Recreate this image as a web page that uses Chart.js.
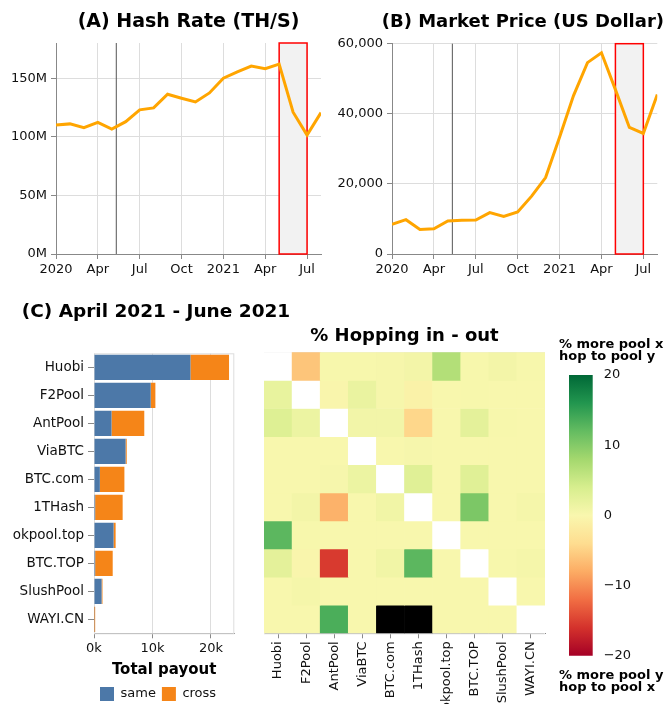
<!DOCTYPE html>
<html>
<head>
<meta charset="utf-8">
<script src="https://cdn.jsdelivr.net/npm/chart.js@4.4.1/dist/chart.umd.min.js"></script>
<style>
html, body { margin: 0; padding: 0; background: #fff; width: 668px; height: 704px; overflow: hidden; }
canvas { position: absolute; }
</style>
</head>
<body>
<canvas id="hashchart" width="334" height="290" style="left:0;top:0"></canvas>
<canvas id="pricechart" width="334" height="290" style="left:334px;top:0"></canvas>
<canvas id="payoutchart" width="312" height="421" style="left:0;top:290px"></canvas>
<canvas id="hopchart" width="300" height="384" style="left:250px;top:320px"></canvas>
<canvas id="scalechart" width="118" height="374" style="left:550px;top:330px"></canvas>
<script>
// monthly series, Jan 2020 - Aug 2021
var months = ['2020-01','2020-02','2020-03','2020-04','2020-05','2020-06','2020-07','2020-08','2020-09','2020-10',
              '2020-11','2020-12','2021-01','2021-02','2021-03','2021-04','2021-05','2021-06','2021-07','2021-08'];
var hashRate = [110e6, 111e6, 107.7e6, 112.3e6, 106.6e6, 112.9e6, 123e6, 124.6e6, 136.3e6, 132.9e6,
                129.7e6, 137.4e6, 150e6, 155.4e6, 160.3e6, 158e6, 162e6, 121e6, 101.4e6, 120.6e6];
var marketPrice = [8500, 9800, 7000, 7200, 9400, 9600, 9700, 11800, 10700, 12000,
                   16500, 21800, 33300, 45200, 54600, 57400, 46900, 36100, 34400, 45500];
var monthNames = ['Jan','Feb','Mar','Apr','May','Jun','Jul','Aug','Sep','Oct','Nov','Dec'];
var hashTicks = [0, 50e6, 100e6, 150e6];
var priceTicks = [0, 20000, 40000, 60000];
var halvingDate = '2020-05-11';
var windowStart = '2021-05';
var windowEnd = '2021-07';

var pools = ['Huobi','F2Pool','AntPool','ViaBTC','BTC.com','1THash','okpool.top','BTC.TOP','SlushPool','WAYI.CN'];
var payoutSame = [16500, 9700, 3000, 5400, 1000, 200, 3350, 200, 1300, 50];
var payoutCross = [6600, 800, 5600, 200, 4200, 4700, 350, 3000, 150, 150];
var payoutTicks = [0, 10000, 20000];

// rows = pool x, columns = pool y ; null = same pool, NaN = no value
var hopping = [
  [null, -6, 0.2, 0.2, 0.4, 0.7, 6.8, 0.2, 0.7, 0.2],
  [2, null, -0.3, 1.8, 0.4, -0.8, 0.1, 0.2, 0.1, 0.1],
  [3.2, 1.5, null, 0.8, 0.8, -4.5, 0.1, 2.5, 0.2, 0.1],
  [0.1, 0.1, 0.1, null, 0.1, 0.3, 0.1, 0.1, 0.1, 0.1],
  [0.1, 0.1, 0.3, 1.5, null, 3, 0.1, 3, 0.1, 0.1],
  [0.1, 0.7, -7.5, 0.1, 1, null, 0.1, 10.5, 0.1, 0.5],
  [12.5, 0.2, 0.1, 0.1, 0.1, 0.1, null, 0.1, 0.1, 0.1],
  [2.5, -0.3, -15.5, 0.1, 1, 12.5, 0.1, null, 0.2, 0.5],
  [0.1, 0.5, 0.1, 0.1, 0.1, 0.1, 0.1, 0.1, null, 0.1],
  [0.1, 0.1, 13.5, 0.1, NaN, NaN, 0.1, 0.1, 0.1, null]
];
var colorDomain = [-20, 20];
var colorTicks = [-20, -10, 0, 10, 20];
var colorStops = ['#a50026','#d4322c','#f16e43','#fcac64','#fedd90','#f9f7ae','#d7ee8e','#a4d86e','#64bc61','#22964f','#006837'];

Chart.defaults.font.family = 'DejaVu Sans';
Chart.defaults.font.size = 13;
Chart.defaults.color = '#111';

function monthIndex(s) {
  var p = s.split('-');
  var y = +p[0], m = +p[1];
  var idx = (y - 2020) * 12 + (m - 1);
  if (p[2]) idx += (+p[2] - 1) / new Date(y, m, 0).getDate();
  return idx;
}

function setTicks(list) {
  return function(s) { s.ticks = list.map(function(v) { return {value: v}; }); };
}

function hexToRgb(h) {
  return [parseInt(h.substr(1, 2), 16), parseInt(h.substr(3, 2), 16), parseInt(h.substr(5, 2), 16)];
}

function cellColor(v) {
  if (v === null) return '#ffffff';
  if (isNaN(v)) return '#000000';
  var t = (v - colorDomain[0]) / (colorDomain[1] - colorDomain[0]);
  t = Math.max(0, Math.min(1, t)) * (colorStops.length - 1);
  var i = Math.min(Math.floor(t), colorStops.length - 2);
  var f = t - i;
  var a = hexToRgb(colorStops[i]), b = hexToRgb(colorStops[i + 1]);
  return 'rgb(' + [0, 1, 2].map(function(k) { return Math.round(a[k] + (b[k] - a[k]) * f); }).join(',') + ')';
}

// empty axis used only to reserve space
function spacer(pos, w) {
  return {
    type: 'linear', position: pos,
    ticks: {display: false}, grid: {display: false}, border: {display: false},
    afterFit: function(s) { s.width = w; }
  };
}

// halving line + highlighted window
var eventMarks = {
  id: 'eventMarks',
  beforeDatasetsDraw: function(chart) {
    var x = chart.scales.x, a = chart.chartArea, ctx = chart.ctx;
    var x0 = x.getPixelForValue(monthIndex(windowStart));
    var x1 = x.getPixelForValue(monthIndex(windowEnd));
    var xh = x.getPixelForValue(monthIndex(halvingDate));
    ctx.save();
    ctx.fillStyle = '#f2f2f2';
    ctx.fillRect(x0, a.top, x1 - x0, a.bottom - a.top);
    ctx.strokeStyle = '#ff0000';
    ctx.lineWidth = 1.5;
    ctx.strokeRect(x0, a.top, x1 - x0, a.bottom - a.top);
    ctx.strokeStyle = '#555';
    ctx.lineWidth = 1;
    ctx.beginPath();
    ctx.moveTo(xh, a.top);
    ctx.lineTo(xh, a.bottom);
    ctx.stroke();
    ctx.restore();
  }
};

var viewBorder = {
  id: 'viewBorder',
  beforeDatasetsDraw: function(chart) {
    var a = chart.chartArea, ctx = chart.ctx;
    ctx.save();
    ctx.strokeStyle = '#ddd';
    ctx.lineWidth = 1;
    ctx.strokeRect(a.left + 0.5, a.top + 0.5, a.right - a.left - 1, a.bottom - a.top);
    ctx.restore();
  }
};

function lineChart(id, title, titleOpts, values, yMax, yTicks, yFormat, yWidth, rightPad, rightSpace) {
  return new Chart(document.getElementById(id), {
    type: 'line',
    data: {
      datasets: [{
        data: months.map(function(m, i) { return {x: monthIndex(m), y: values[i]}; }),
        borderColor: '#ffa500',
        borderWidth: 3,
        pointRadius: 0,
        tension: 0,
        fill: false
      }]
    },
    options: {
      responsive: false,
      animation: false,
      layout: {padding: {left: 0, right: rightPad, top: 0, bottom: 0}},
      plugins: {
        legend: {display: false},
        tooltip: {enabled: false},
        title: Object.assign({display: true, text: title, color: '#000'}, titleOpts)
      },
      scales: {
        x: {
          type: 'linear', min: 0, max: monthIndex(months[months.length - 1]),
          ticks: {
            padding: 3, maxRotation: 0,
            callback: function(v) {
              var m = Math.round(v) % 12;
              return m === 0 ? String(2020 + Math.round(v) / 12) : monthNames[m];
            }
          },
          afterBuildTicks: setTicks(months.filter(function(m, i) { return i % 3 === 0; }).map(monthIndex)),
          grid: {color: '#ddd', tickColor: '#888', tickLength: 5},
          border: {color: '#888'},
          afterFit: function(s) { s.height = 36; }
        },
        y: {
          min: 0, max: yMax,
          ticks: {padding: 4, callback: yFormat},
          afterBuildTicks: setTicks(yTicks),
          grid: {color: '#ddd', tickColor: '#888', tickLength: 5},
          border: {color: '#888'},
          afterFit: function(s) { s.width = yWidth; }
        },
        pad: spacer('right', rightSpace)
      }
    },
    plugins: [eventMarks]
  });
}

lineChart('hashchart', '(A) Hash Rate (TH/S)',
  {fullSize: false, font: {size: 19, weight: 'bold'}, padding: {top: 10.6, bottom: 9.6}},
  hashRate, 180e6, hashTicks, function(v) { return (v / 1e6) + 'M'; }, 56, 0, 13);
lineChart('pricechart', '(B) Market Price (US Dollar)',
  {fullSize: true, align: 'end', font: {size: 18, weight: 'bold'}, padding: {top: 11.2, bottom: 10.9}},
  marketPrice, 60000, priceTicks, function(v) { return v.toLocaleString('en-US'); }, 58, 4, 6.7);

// (C) stacked payout bars
new Chart(document.getElementById('payoutchart'), {
  type: 'bar',
  data: {
    labels: pools,
    datasets: [
      {label: 'same', data: payoutSame, backgroundColor: '#4c78a8', barPercentage: 0.9, categoryPercentage: 1},
      {label: 'cross', data: payoutCross, backgroundColor: '#f58518', barPercentage: 0.9, categoryPercentage: 1}
    ]
  },
  options: {
    indexAxis: 'y',
    responsive: false,
    animation: false,
    layout: {padding: 0},
    plugins: {
      tooltip: {enabled: false},
      title: {
        display: true, text: '(C) April 2021 - June 2021', color: '#000',
        font: {size: 18.5, weight: 'bold'},
        padding: {top: 11.4, bottom: 29.7}
      },
      legend: {
        position: 'bottom', align: 'start', fullSize: false,
        labels: {boxWidth: 14, boxHeight: 14, padding: 6, font: {size: 13}, color: '#111'}
      }
    },
    scales: {
      x: {
        stacked: true, min: 0, max: 24000,
        ticks: {padding: 3, callback: function(v) { return (v / 1000) + 'k'; }},
        afterBuildTicks: setTicks(payoutTicks),
        grid: {color: '#ddd', tickColor: '#888', tickLength: 5},
        border: {color: '#888'},
        title: {display: true, text: 'Total payout', color: '#000', font: {size: 15, weight: 'bold'}, padding: {top: 0, bottom: 2}},
        afterFit: function(s) { s.height = 47.7; }
      },
      y: {
        stacked: true,
        ticks: {padding: 4, font: {size: 13.5}},
        grid: {drawOnChartArea: false, offset: false, tickColor: '#888', tickLength: 6},
        border: {display: false},
        afterFit: function(s) { s.width = 94; }
      },
      pad: spacer('right', 77.7)
    }
  },
  plugins: [viewBorder]
});

// hopping heatmap: one floating-bar dataset per row
var heatDatasets = pools.map(function(rowPool, i) {
  return {
    label: rowPool,
    data: pools.map(function() { return [pools.length - 1 - i, pools.length - i]; }),
    backgroundColor: hopping[i].map(cellColor),
    borderWidth: 0,
    barPercentage: 1,
    categoryPercentage: 1,
    grouped: false
  };
});

new Chart(document.getElementById('hopchart'), {
  type: 'bar',
  data: {labels: pools, datasets: heatDatasets},
  options: {
    responsive: false,
    animation: false,
    layout: {padding: {left: 14, right: 5, top: 0, bottom: 0}},
    plugins: {
      legend: {display: false},
      tooltip: {enabled: false},
      title: {
        display: true, text: '% Hopping in - out', fullSize: false, color: '#000',
        font: {size: 18, weight: 'bold'},
        padding: {top: 6, bottom: 4.7}
      }
    },
    scales: {
      x: {
        ticks: {minRotation: 90, maxRotation: 90, autoSkip: false, padding: 3, font: {size: 13}},
        grid: {drawOnChartArea: false, offset: false, tickColor: '#888', tickLength: 5},
        border: {color: '#888'},
        afterFit: function(s) { s.height = 70.7; }
      },
      y: {display: false, min: 0, max: pools.length}
    }
  },
  plugins: [viewBorder]
});

// colour scale legend
new Chart(document.getElementById('scalechart'), {
  type: 'bar',
  data: {
    labels: [''],
    datasets: [{
      data: [colorDomain.slice()],
      barPercentage: 1,
      categoryPercentage: 1,
      borderWidth: 0,
      backgroundColor: function(c) {
        var chart = c.chart;
        if (!chart.chartArea) return '#f9f7ae';
        var y = chart.scales.y;
        var g = chart.ctx.createLinearGradient(0, y.getPixelForValue(colorDomain[0]), 0, y.getPixelForValue(colorDomain[1]));
        colorStops.forEach(function(col, k) { g.addColorStop(k / (colorStops.length - 1), col); });
        return g;
      }
    }]
  },
  options: {
    responsive: false,
    animation: false,
    layout: {padding: {left: 9, right: 0, top: 0, bottom: 0}},
    plugins: {
      legend: {display: false},
      tooltip: {enabled: false},
      title: {
        display: true, text: ['% more pool x', 'hop to pool y'], align: 'start', color: '#000',
        font: {size: 13, weight: 'bold', lineHeight: '12px'},
        padding: {top: 9, bottom: 12}
      },
      subtitle: {
        display: true, position: 'bottom', text: ['% more pool y', 'hop to pool x'], align: 'start', color: '#000',
        font: {size: 13, weight: 'bold', lineHeight: '12px'},
        padding: {top: 14.3, bottom: 10}
      }
    },
    scales: {
      x: {display: false},
      yl: spacer('left', 10),
      y: {
        position: 'right', min: colorDomain[0], max: colorDomain[1],
        ticks: {padding: 3, font: {size: 13},
          callback: function(v) { return v < 0 ? '\u2212' + Math.abs(v) : String(v); }},
        afterBuildTicks: setTicks(colorTicks),
        grid: {display: false},
        border: {display: false},
        afterFit: function(s) { s.width = 75.3; }
      }
    }
  }
});
</script>
</body>
</html>
